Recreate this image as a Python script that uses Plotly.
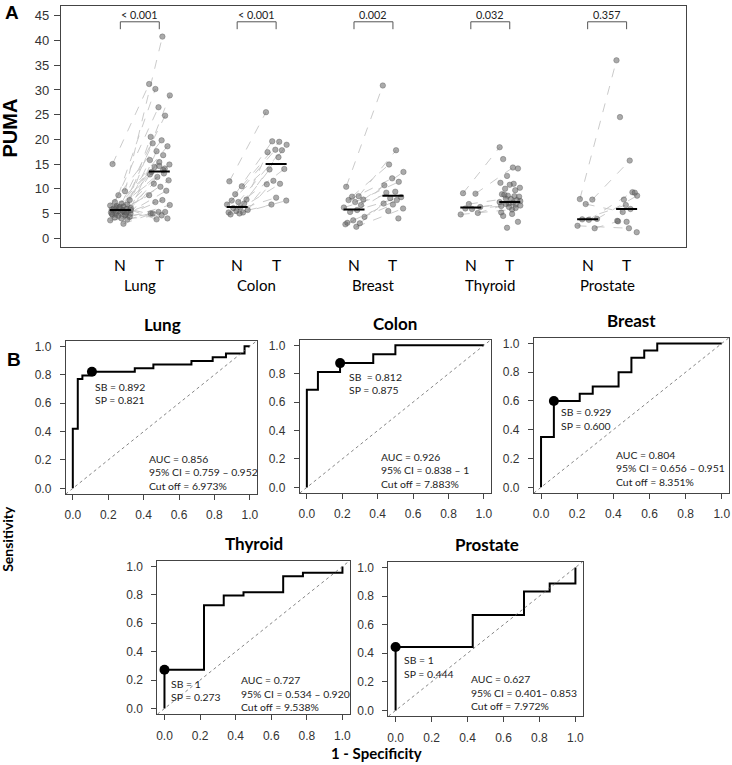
import plotly.graph_objects as go

# ---------------- data: panel A ----------------
groups = ["Lung", "Colon", "Breast", "Thyroid", "Prostate"]
p_values = ["< 0.001", "< 0.001", "0.002", "0.032", "0.357"]

lung_N = [15.0, 9.5, 8.7, 7.7, 7.3, 7.0, 6.8, 6.6, 6.4, 6.2, 6.1, 6.0, 5.9, 5.8, 5.7, 5.6,
          5.5, 5.4, 5.3, 5.2, 5.1, 5.0, 4.9, 4.8, 4.7, 4.6, 4.5, 4.3, 4.2, 4.0, 3.8, 3.6,
          2.9, 6.5, 5.7, 6.3, 5.2, 4.9, 5.5, 6.0]
lung_T = [31.2, 40.8, 30.2, 28.9, 26.5, 24.8, 20.5, 19.8, 19.2, 18.6, 17.6, 16.8, 15.8,
          15.4, 14.9, 14.4, 14.1, 13.4, 13.1, 12.4, 11.7, 11.0, 10.4, 9.6, 8.7, 7.7, 7.3,
          6.7, 5.3, 5.3, 5.0, 4.6, 5.0, 4.0, 3.8, 13.8, 12.9, 14.6]
colon_N = [11.5, 10.5, 8.9, 7.8, 7.6, 7.3, 7.0, 6.8, 6.2, 6.1, 5.7, 5.5, 5.2, 5.2, 5.0, 4.8]
colon_T = [25.5, 19.5, 19.6, 18.9, 17.9, 17.8, 17.4, 16.4, 13.9, 14.0, 11.6, 11.0, 10.9,
           8.2, 7.6, 6.8]
breast_N = [10.4, 8.5, 8.4, 7.8, 7.7, 7.3, 6.7, 6.2, 5.7, 5.3, 4.3, 3.6, 3.0, 2.8, 2.3, 3.1]
breast_T = [30.9, 17.8, 14.9, 13.4, 12.1, 11.4, 10.7, 9.4, 9.2, 8.3, 8.1, 7.7, 7.0, 6.8,
            6.0, 5.5, 4.0]
thyroid_N = [9.1, 9.0, 6.9, 6.3, 6.0, 5.9, 5.1, 4.8]
thyroid_T = [18.4, 14.3, 8.0, 7.5, 7.0, 6.8, 6.5, 5.8, 16.0, 14.1, 12.6, 11.0, 11.2, 10.8,
             10.2, 10.0, 9.7, 8.9, 8.5, 8.6, 8.4, 8.8, 7.9, 7.7, 7.3, 7.2, 6.9, 6.6, 6.3,
             6.1, 5.2, 4.9, 4.5, 3.3, 2.1]
prostate_N = [7.9, 7.8, 6.9, 3.9, 3.8, 3.7, 2.0, 2.5]
prostate_T = [36.0, 15.7, 5.3, 8.6, 6.7, 9.3, 3.4, 2.0, 24.5, 9.2, 7.8, 5.9, 3.5, 3.3, 1.2]
n_pairs = [38, 16, 15, 8, 8]

median_N = [5.7, 6.3, 5.8, 6.2, 3.8]
median_T = [13.5, 15.0, 8.6, 7.3, 5.9]

# ---------------- data: panel B (ROC) ----------------
lung_fpr = [0, 0, 0.028, 0.028, 0.054, 0.054, 0.095, 0.095, 0.35, 0.35, 0.455, 0.455,
            0.67, 0.67, 0.79, 0.79, 0.865, 0.865, 0.97, 0.97, 1.0]
lung_tpr = [0, 0.42, 0.42, 0.77, 0.77, 0.795, 0.795, 0.821, 0.821, 0.846, 0.846, 0.872,
            0.872, 0.897, 0.897, 0.923, 0.923, 0.949, 0.949, 1.0, 1.0]
colon_fpr = [0, 0, 0.0625, 0.0625, 0.1875, 0.1875, 0.375, 0.375, 0.5, 0.5, 1.0]
colon_tpr = [0, 0.6875, 0.6875, 0.8125, 0.8125, 0.875, 0.875, 0.9375, 0.9375, 1.0, 1.0]
breast_fpr = [0, 0, 0.071, 0.071, 0.214, 0.214, 0.286, 0.286, 0.429, 0.429, 0.5, 0.5,
              0.571, 0.571, 0.643, 0.643, 1.0]
breast_tpr = [0, 0.35, 0.35, 0.60, 0.60, 0.65, 0.65, 0.70, 0.70, 0.80, 0.80, 0.90, 0.90,
              0.95, 0.95, 1.0, 1.0]
thyroid_fpr = [0, 0, 0.222, 0.222, 0.333, 0.333, 0.444, 0.444, 0.667, 0.667, 0.778, 0.778,
               1.0, 1.0]
thyroid_tpr = [0, 0.273, 0.273, 0.727, 0.727, 0.795, 0.795, 0.818, 0.818, 0.932, 0.932,
               0.955, 0.955, 1.0]
prostate_fpr = [0, 0, 0.429, 0.429, 0.714, 0.714, 0.857, 0.857, 1.0, 1.0]
prostate_tpr = [0, 0.444, 0.444, 0.667, 0.667, 0.833, 0.833, 0.889, 0.889, 1.0]

best_fpr = [0.108, 0.188, 0.071, 0.0, 0.0]
best_tpr = [0.821, 0.875, 0.600, 0.273, 0.444]
sb_text = ["SB = 0.892", "SB  = 0.812", "SB = 0.929", "SB = 1", "SB = 1"]
sp_text = ["SP = 0.821", "SP = 0.875", "SP = 0.600", "SP = 0.273", "SP = 0.444"]
auc_text = ["AUC = 0.856", "AUC = 0.926", "AUC = 0.804", "AUC = 0.727", "AUC = 0.627"]
ci_text = ["95% CI = 0.759 \u2013 0.952", "95% CI = 0.838 \u2013 1", "95% CI = 0.656 \u2013 0.951",
           "95% CI = 0.534 \u2013 0.920", "95% CI = 0.401\u2013 0.853"]
cut_text = ["Cut off = 6.973%", "Cut off = 7.883%", "Cut off = 8.351%", "Cut off = 9.538%",
            "Cut off = 7.972%"]

# ---------------- layout helpers ----------------
W, H = 732, 765
def dx(a, b):
    return [a / W, b / W]
def dy(top, bottom):
    return [1 - bottom / H, 1 - top / H]

JIT = [-0.2, 0.12, -0.05, 0.24, -0.14, 0.03, 0.18, -0.26, 0.08, -0.1, 0.27, -0.02, 0.15,
       -0.22, 0.06, -0.17, 0.21, -0.07, 0.1, -0.24, 0.0, 0.26, -0.12, 0.14]

normals = [lung_N, colon_N, breast_N, thyroid_N, prostate_N]
tumors = [lung_T, colon_T, breast_T, thyroid_T, prostate_T]

fig = go.Figure()
TICKFONT = dict(family="Liberation Sans, Arial", size=12, color="#333")
LAB = "Lato, Open Sans, sans-serif"
TXT = dict(family=LAB, size=10.4, color="#222")

annotations = []
shapes = []

# ---------------- panel A ----------------
for g in range(5):
    xN = 3 * g + 1
    xT = 3 * g + 2
    nv, tv = normals[g], tumors[g]
    xn = [xN + JIT[i % len(JIT)] for i in range(len(nv))]
    xt = [xT + JIT[(i + 7) % len(JIT)] for i in range(len(tv))]
    lx, ly = [], []
    for i in range(n_pairs[g]):
        lx += [xn[i], xt[i], None]
        ly += [nv[i], tv[i], None]
    fig.add_trace(go.Scatter(x=lx, y=ly, mode="lines", xaxis="x", yaxis="y",
                             line=dict(color="#c4c4c4", width=0.9, dash="dash"),
                             hoverinfo="skip", showlegend=False))
    fig.add_trace(go.Scatter(x=xn + xt, y=nv + tv, mode="markers", xaxis="x", yaxis="y",
                             marker=dict(size=5.5, color="rgba(100,100,100,0.55)",
                                         line=dict(color="rgba(70,70,70,0.55)", width=0.6)),
                             showlegend=False))
    for pos, med in ((xN, median_N[g]), (xT, median_T[g])):
        fig.add_trace(go.Scatter(x=[pos - 0.27, pos + 0.27], y=[med, med], mode="lines",
                                 xaxis="x", yaxis="y", line=dict(color="black", width=2),
                                 showlegend=False))
    # bracket
    fig.add_trace(go.Scatter(x=[xN, xN, xT, xT], y=[42.3, 43.8, 43.8, 42.3], mode="lines",
                             xaxis="x", yaxis="y", line=dict(color="#555", width=1),
                             showlegend=False))
    annotations.append(dict(x=(xN + xT) / 2, y=43.8, xref="x", yref="y", text=p_values[g],
                            showarrow=False, xanchor="center", yanchor="bottom", yshift=-1,
                            font=dict(family=LAB, size=10.8, color="#222")))
    for pos, t in ((xN, "N"), (xT, "T")):
        annotations.append(dict(x=pos, y=1 - 265 / H, xref="x", yref="paper", text=t,
                                showarrow=False, xanchor="center", yanchor="middle",
                                font=dict(family=LAB, size=15.5, color="black")))
    annotations.append(dict(x=(xN + xT) / 2, y=1 - 285 / H, xref="x", yref="paper",
                            text=groups[g], showarrow=False, xanchor="center",
                            yanchor="middle",
                            font=dict(family=LAB, size=15, color="black")))

layout = dict(
    width=W, height=H, margin=dict(l=0, r=0, t=0, b=0),
    paper_bgcolor="white", plot_bgcolor="white", showlegend=False,
    xaxis=dict(domain=dx(60, 688), range=[-0.53, 15.53], showline=True, mirror=True,
               linecolor="#444", linewidth=1, showgrid=False, zeroline=False,
               showticklabels=False, ticks="", anchor="y"),
    yaxis=dict(domain=dy(5, 247), range=[-1.8, 47], showline=True, mirror=True,
               linecolor="#444", linewidth=1, showgrid=False, zeroline=False,
               tickvals=list(range(0, 50, 5)), ticks="outside", ticklen=6,
               tickcolor="#444", tickfont=dict(family="Liberation Sans, Arial", size=13,
                                               color="#333"),
               ticklabelstandoff=2, anchor="x"),
)

# ---------------- panel B ----------------
roc_fpr = [lung_fpr, colon_fpr, breast_fpr, thyroid_fpr, prostate_fpr]
roc_tpr = [lung_tpr, colon_tpr, breast_tpr, thyroid_tpr, prostate_tpr]
frames = [(65, 257, 341, 495), (300, 492, 340, 494), (535, 731, 338, 494),
          (157, 350, 562, 716), (389, 584, 563, 718)]
title_pos = [(162, 325), (396, 324), (633, 321), (254, 545), (488, 546)]
sb_xy = [(0.115, 0.713), (0.225, 0.78), (0.10, 0.52), (0.024, 0.175), (0.033, 0.35)]
auc_xy = [(0.418, 0.21), (0.41, 0.217), (0.406, 0.226), (0.42, 0.20), (0.41, 0.22)]

for k in range(5):
    ax = str(k + 2)
    xa, ya = "x" + ax, "y" + ax
    l, r, t, b = frames[k]
    layout["xaxis" + ax] = dict(domain=dx(l, r), range=[-0.04, 1.04], anchor=ya,
                                showline=True, mirror=True, linecolor="#444", linewidth=1,
                                showgrid=False, zeroline=False,
                                tickvals=[0, 0.2, 0.4, 0.6, 0.8, 1.0], tickformat=".1f",
                                ticks="outside", ticklen=5, tickcolor="#444",
                                tickfont=TICKFONT, ticklabelstandoff=5)
    layout["yaxis" + ax] = dict(domain=dy(t, b), range=[-0.04, 1.04], anchor=xa,
                                showline=True, mirror=True, linecolor="#444", linewidth=1,
                                showgrid=False, zeroline=False,
                                tickvals=[0, 0.2, 0.4, 0.6, 0.8, 1.0], tickformat=".1f",
                                ticks="outside", ticklen=5, tickcolor="#444",
                                tickfont=TICKFONT, ticklabelstandoff=6)
    shapes.append(dict(type="line", xref=xa, yref=ya, x0=-0.04, y0=-0.04, x1=1.04, y1=1.04,
                       line=dict(color="#666", width=0.8, dash="dot")))
    fig.add_trace(go.Scatter(x=roc_fpr[k], y=roc_tpr[k], mode="lines", xaxis=xa, yaxis=ya,
                             line=dict(color="black", width=2), showlegend=False))
    fig.add_trace(go.Scatter(x=[best_fpr[k]], y=[best_tpr[k]], mode="markers", xaxis=xa,
                             yaxis=ya, marker=dict(size=10, color="black"),
                             showlegend=False, cliponaxis=False))
    sx, sy = sb_xy[k]
    for txt, yy in ((sb_text[k], sy), (sp_text[k], sy - 0.092)):
        annotations.append(dict(x=sx, y=yy, xref=xa, yref=ya, text=txt, showarrow=False,
                                xanchor="left", yanchor="middle", font=TXT))
    axx, ayy = auc_xy[k]
    for j, txt in enumerate((auc_text[k], ci_text[k], cut_text[k])):
        annotations.append(dict(x=axx, y=ayy - 0.095 * j, xref=xa, yref=ya, text=txt,
                                showarrow=False, xanchor="left", yanchor="middle", font=TXT))
    tx, ty = title_pos[k]
    annotations.append(dict(x=tx / W, y=1 - ty / H, xref="paper", yref="paper",
                            text="<b>" + groups[k] + "</b>", showarrow=False,
                            xanchor="center", yanchor="middle",
                            font=dict(family=LAB, size=17, color="black")))

# panel letters and axis titles
annotations += [
    dict(x=11 / W, y=1 - 12 / H, xref="paper", yref="paper", text="<b>A</b>",
         showarrow=False, xanchor="center", yanchor="middle",
         font=dict(family="Liberation Sans, Arial", size=19, color="black")),
    dict(x=13 / W, y=1 - 360 / H, xref="paper", yref="paper", text="<b>B</b>",
         showarrow=False, xanchor="center", yanchor="middle",
         font=dict(family="Liberation Sans, Arial", size=19, color="black")),
    dict(x=9 / W, y=1 - 127 / H, xref="paper", yref="paper", text="<b>PUMA</b>",
         textangle=-90, showarrow=False, xanchor="center", yanchor="middle",
         font=dict(family="Liberation Sans, Arial", size=20, color="black")),
    dict(x=7 / W, y=1 - 540 / H, xref="paper", yref="paper", text="<b>Sensitivity</b>",
         textangle=-90, showarrow=False, xanchor="center", yanchor="middle",
         font=dict(family=LAB, size=14, color="black")),
    dict(x=377 / W, y=1 - 755 / H, xref="paper", yref="paper", text="<b>1 - Specificity</b>",
         showarrow=False, xanchor="center", yanchor="middle",
         font=dict(family=LAB, size=15, color="black")),
]

layout["annotations"] = annotations
layout["shapes"] = shapes
fig.update_layout(**layout)
fig.write_html("out.html", config={"displayModeBar": False},
               post_script="document.body.style.margin='0';")
